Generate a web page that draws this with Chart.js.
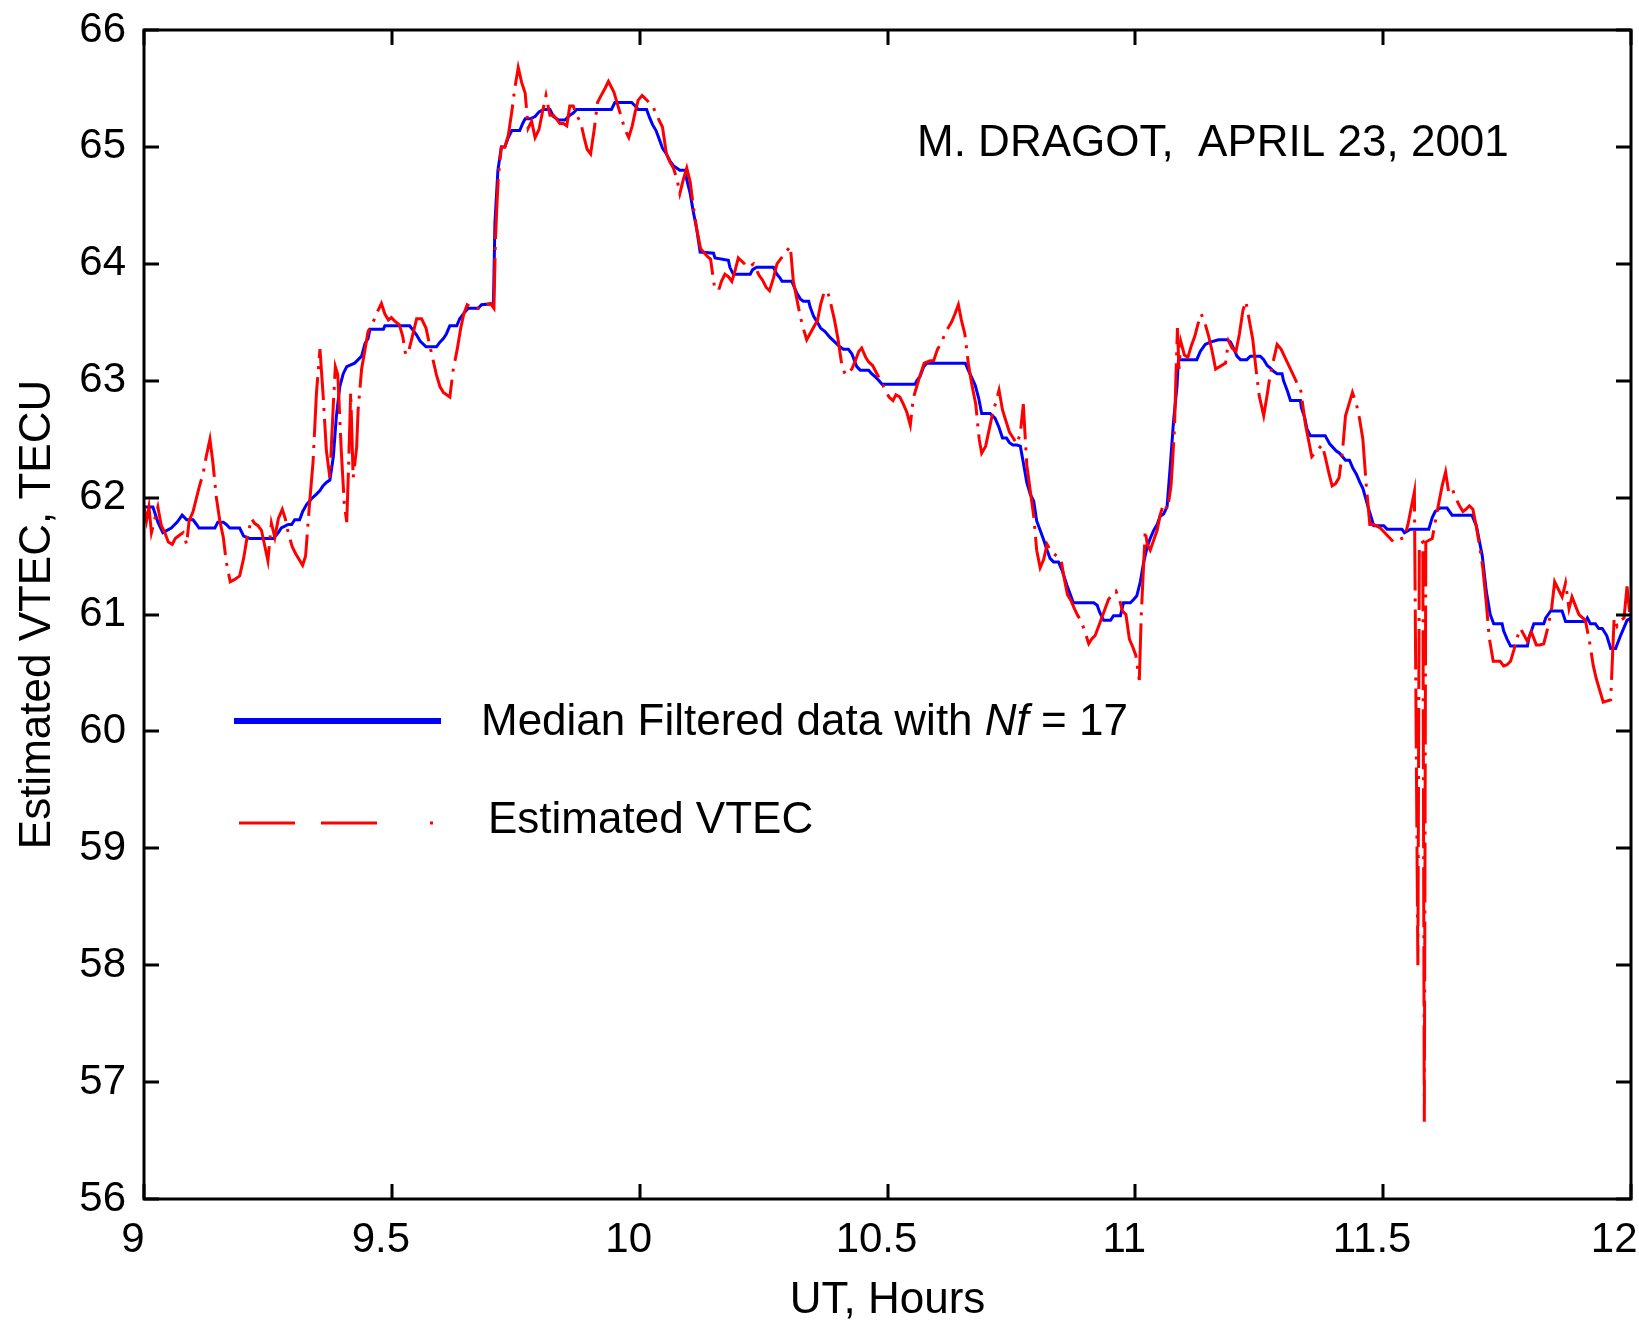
<!DOCTYPE html>
<html>
<head>
<meta charset="utf-8">
<title>Estimated VTEC, M. DRAGOT, April 23, 2001</title>
<script src="https://cdn.jsdelivr.net/npm/chart.js@4.4.1/dist/chart.umd.min.js"></script>
<style>
  html, body { margin: 0; padding: 0; background: #ffffff; }
  #wrap { width: 1639px; height: 1321px; }
</style>
</head>
<body>
<div id="wrap"><canvas id="vtec" width="1639" height="1321"></canvas></div>
<script>
// Estimated VTEC samples (UT hours / TECU)
const vtecHours = [
  9.000, 9.005, 9.010, 9.015, 9.022, 9.028, 9.035, 9.042, 9.049, 9.057, 9.063, 9.072, 9.079, 9.086, 9.091, 9.099,
  9.106, 9.112, 9.119, 9.126, 9.133, 9.139, 9.146, 9.153, 9.160, 9.166, 9.174, 9.183, 9.193, 9.201, 9.208, 9.217,
  9.223, 9.230, 9.237, 9.244, 9.250, 9.257, 9.264, 9.271, 9.279, 9.285, 9.291, 9.299, 9.306, 9.313, 9.320, 9.326,
  9.334, 9.341, 9.348, 9.355, 9.361, 9.368, 9.375, 9.382, 9.386, 9.391, 9.398, 9.404, 9.409, 9.413, 9.417, 9.422,
  9.429, 9.432, 9.439, 9.446, 9.452, 9.462, 9.472, 9.479, 9.486, 9.493, 9.499, 9.506, 9.515, 9.522, 9.528, 9.535,
  9.542, 9.550, 9.560, 9.569, 9.575, 9.583, 9.590, 9.597, 9.604, 9.617, 9.624, 9.632, 9.639, 9.645, 9.652, 9.664,
  9.678, 9.691, 9.699, 9.706, 9.709, 9.712, 9.715, 9.721, 9.728, 9.735, 9.742, 9.748, 9.755, 9.762, 9.769, 9.775,
  9.782, 9.789, 9.797, 9.804, 9.811, 9.819, 9.826, 9.832, 9.839, 9.846, 9.853, 9.859, 9.866, 9.873, 9.881, 9.888,
  9.894, 9.901, 9.908, 9.915, 9.921, 9.930, 9.937, 9.948, 9.964, 9.970, 9.978, 9.985, 9.991, 9.997, 10.005, 10.026,
  10.039, 10.046, 10.054, 10.061, 10.068, 10.075, 10.081, 10.088, 10.095, 10.102, 10.108, 10.115, 10.123, 10.137, 10.143, 10.151,
  10.159, 10.165, 10.172, 10.179, 10.186, 10.193, 10.199, 10.219, 10.230, 10.241, 10.248, 10.255, 10.262, 10.270, 10.277, 10.304,
  10.310, 10.317, 10.324, 10.330, 10.337, 10.359, 10.365, 10.373, 10.380, 10.386, 10.393, 10.400, 10.408, 10.415, 10.421, 10.428,
  10.435, 10.442, 10.448, 10.456, 10.462, 10.470, 10.503, 10.511, 10.517, 10.525, 10.532, 10.539, 10.546, 10.552, 10.559, 10.566,
  10.574, 10.586, 10.593, 10.601, 10.608, 10.614, 10.622, 10.629, 10.636, 10.643, 10.649, 10.656, 10.663, 10.670, 10.678, 10.685,
  10.690, 10.698, 10.712, 10.719, 10.725, 10.732, 10.746, 10.752, 10.761, 10.768, 10.774, 10.781, 10.795, 10.801, 10.808, 10.815,
  10.822, 10.830, 10.850, 10.857, 10.863, 10.870, 10.877, 10.884, 10.890, 10.897, 10.906, 10.912, 10.919, 10.926, 10.933, 10.939,
  10.946, 10.954, 10.961, 10.968, 10.974, 10.981, 10.988, 10.995, 11.001, 11.008, 11.012, 11.017, 11.020, 11.024, 11.030, 11.044,
  11.050, 11.057, 11.065, 11.072, 11.075, 11.079, 11.082, 11.085, 11.088, 11.092, 11.099, 11.106, 11.113, 11.120, 11.126, 11.133,
  11.140, 11.148, 11.155, 11.162, 11.182, 11.188, 11.195, 11.203, 11.210, 11.217, 11.223, 11.237, 11.244, 11.250, 11.259, 11.266,
  11.272, 11.279, 11.286, 11.294, 11.314, 11.334, 11.343, 11.350, 11.356, 11.370, 11.377, 11.383, 11.391, 11.397, 11.404, 11.411,
  11.418, 11.424, 11.431, 11.438, 11.446, 11.453, 11.459, 11.466, 11.473, 11.481, 11.494, 11.521, 11.543, 11.550, 11.556, 11.563,
  11.570, 11.573, 11.580, 11.583, 11.586, 11.599, 11.612, 11.619, 11.626, 11.632, 11.639, 11.646, 11.654, 11.661, 11.667, 11.674,
  11.681, 11.688, 11.694, 11.701, 11.708, 11.714, 11.722, 11.736, 11.743, 11.750, 11.757, 11.764, 11.770, 11.777, 11.791, 11.799,
  11.809, 11.816, 11.824, 11.833, 11.840, 11.846, 11.861, 11.868, 11.875, 11.881, 11.895, 11.908, 11.917, 11.924, 11.930, 11.937,
  11.944, 11.959, 11.966, 11.972, 11.979, 11.986, 11.992, 12.000
];
const vtecValues = [
  61.92, 61.80, 61.92, 61.70, 61.82, 61.92, 61.76, 61.70, 61.62, 61.60, 61.65, 61.68, 61.70, 61.60, 61.80, 61.88,
  62.00, 62.10, 62.20, 62.36, 62.50, 62.30, 62.00, 61.80, 61.66, 61.45, 61.28, 61.30, 61.33, 61.48, 61.66, 61.82,
  61.78, 61.76, 61.72, 61.58, 61.46, 61.78, 61.66, 61.82, 61.90, 61.82, 61.70, 61.58, 61.52, 61.47, 61.42, 61.50,
  61.95, 62.30, 62.90, 63.27, 62.90, 62.40, 62.17, 62.80, 63.12, 63.05, 62.40, 61.95, 61.79, 62.30, 62.90, 62.17,
  62.43, 62.75, 63.10, 63.27, 63.42, 63.50, 63.60, 63.66, 63.57, 63.52, 63.54, 63.51, 63.48, 63.38, 63.22, 63.27,
  63.39, 63.53, 63.53, 63.45, 63.33, 63.18, 63.05, 62.95, 62.90, 62.86, 63.10, 63.27, 63.45, 63.57, 63.65, 63.62,
  63.62, 63.65, 63.66, 63.62, 64.20, 64.50, 64.75, 65.00, 65.00, 65.10, 65.30, 65.50, 65.68, 65.55, 65.46, 65.16,
  65.22, 65.08, 65.15, 65.30, 65.44, 65.27, 65.27, 65.24, 65.20, 65.20, 65.18, 65.35, 65.35, 65.27, 65.21, 65.08,
  64.98, 64.94, 65.14, 65.38, 65.43, 65.50, 65.56, 65.47, 65.24, 65.15, 65.08, 65.18, 65.30, 65.40, 65.44, 65.35,
  65.23, 65.17, 64.94, 64.87, 64.82, 64.73, 64.60, 64.72, 64.82, 64.70, 64.50, 64.30, 64.13, 64.06, 64.04, 63.80,
  63.77, 63.85, 63.91, 63.89, 63.85, 63.95, 64.05, 63.97, 64.00, 63.90, 63.86, 63.80, 63.77, 63.88, 64.00, 64.15,
  63.85, 63.70, 63.55, 63.45, 63.35, 63.52, 63.65, 63.77, 63.75, 63.65, 63.52, 63.36, 63.13, 63.05, 63.07, 63.10,
  63.17, 63.25, 63.28, 63.20, 63.16, 63.13, 62.86, 62.83, 62.88, 62.86, 62.80, 62.73, 62.62, 62.85, 62.95, 63.05,
  63.15, 63.17, 63.17, 63.27, 63.32, 63.38, 63.45, 63.50, 63.57, 63.65, 63.52, 63.40, 63.15, 62.97, 62.80, 62.50,
  62.38, 62.44, 62.72, 62.82, 62.92, 62.75, 62.56, 62.52, 62.46, 62.55, 62.80, 62.28, 61.84, 61.55, 61.40, 61.47,
  61.60, 61.54, 61.47, 61.30, 61.17, 61.12, 61.05, 60.99, 60.95, 60.87, 60.75, 60.79, 60.82, 60.90, 60.98, 61.05,
  61.13, 61.17, 61.20, 61.13, 61.03, 61.00, 60.79, 60.72, 60.65, 60.44, 61.00, 61.45, 61.72, 61.60, 61.55, 61.72,
  61.85, 61.95, 61.90, 62.10, 62.30, 62.60, 63.05, 63.45, 63.10, 63.33, 63.22, 63.20, 63.30, 63.38, 63.48, 63.57,
  63.50, 63.38, 63.25, 63.10, 63.15, 63.34, 63.28, 63.25, 63.40, 63.60, 63.68, 63.35, 63.08, 62.87, 62.70, 62.88,
  63.05, 63.18, 63.31, 63.27, 63.09, 62.91, 62.63, 62.48, 62.35, 62.42, 62.45, 62.35, 62.20, 62.10, 62.12, 62.17,
  62.40, 62.70, 62.80, 62.90, 62.80, 62.66, 62.50, 62.10, 61.77, 61.77, 61.74, 61.62, 61.66, 61.77, 61.90, 62.05,
  58.00, 61.60, 61.62, 56.66, 61.62, 61.65, 61.95, 62.10, 62.22, 62.05, 62.08, 62.00, 61.93, 61.88, 61.90, 61.93,
  61.90, 61.75, 61.60, 61.40, 61.10, 60.80, 60.60, 60.60, 60.56, 60.57, 60.60, 60.70, 60.80, 60.88, 60.77, 60.85,
  60.74, 60.74, 60.75, 60.90, 61.06, 61.28, 61.15, 61.27, 61.05, 61.15, 61.00, 60.95, 60.75, 60.56, 60.45, 60.35,
  60.25, 60.27, 60.97, 60.90, 60.95, 60.97, 61.24, 60.90
];

// Median filtered VTEC (Nf = 17)
const medianHours = [
  9.000, 9.018, 9.028, 9.038, 9.055, 9.067, 9.077, 9.086, 9.099, 9.106, 9.111, 9.143, 9.149, 9.160, 9.166, 9.173,
  9.193, 9.201, 9.213, 9.261, 9.271, 9.277, 9.291, 9.298, 9.304, 9.314, 9.320, 9.328, 9.338, 9.348, 9.355, 9.361,
  9.368, 9.375, 9.382, 9.388, 9.395, 9.402, 9.409, 9.425, 9.432, 9.439, 9.446, 9.452, 9.456, 9.483, 9.486, 9.536,
  9.543, 9.550, 9.557, 9.569, 9.590, 9.597, 9.604, 9.610, 9.617, 9.631, 9.637, 9.644, 9.654, 9.674, 9.681, 9.705,
  9.708, 9.714, 9.721, 9.728, 9.735, 9.742, 9.758, 9.764, 9.769, 9.779, 9.789, 9.797, 9.806, 9.819, 9.826, 9.836,
  9.849, 9.859, 9.866, 9.873, 9.943, 9.950, 9.984, 9.991, 9.997, 10.014, 10.020, 10.026, 10.033, 10.040, 10.046, 10.054,
  10.061, 10.068, 10.081, 10.092, 10.095, 10.102, 10.108, 10.115, 10.122, 10.149, 10.152, 10.179, 10.182, 10.189, 10.223, 10.228,
  10.236, 10.270, 10.277, 10.283, 10.287, 10.307, 10.317, 10.324, 10.330, 10.341, 10.344, 10.351, 10.357, 10.365, 10.374, 10.384,
  10.394, 10.404, 10.411, 10.421, 10.428, 10.438, 10.445, 10.462, 10.468, 10.476, 10.483, 10.489, 10.556, 10.559, 10.566, 10.573,
  10.579, 10.657, 10.663, 10.677, 10.684, 10.690, 10.707, 10.717, 10.725, 10.732, 10.740, 10.746, 10.753, 10.761, 10.768, 10.774,
  10.781, 10.788, 10.795, 10.801, 10.808, 10.815, 10.822, 10.828, 10.835, 10.845, 10.852, 10.862, 10.875, 10.916, 10.923, 10.928,
  10.936, 10.950, 10.956, 10.970, 10.976, 10.990, 10.997, 11.003, 11.010, 11.017, 11.024, 11.030, 11.037, 11.044, 11.050, 11.057,
  11.064, 11.071, 11.077, 11.084, 11.087, 11.124, 11.131, 11.141, 11.151, 11.168, 11.185, 11.192, 11.199, 11.205, 11.212, 11.225,
  11.232, 11.252, 11.259, 11.266, 11.272, 11.279, 11.286, 11.296, 11.299, 11.307, 11.313, 11.333, 11.335, 11.342, 11.346, 11.353,
  11.383, 11.392, 11.405, 11.412, 11.424, 11.432, 11.439, 11.446, 11.453, 11.459, 11.473, 11.481, 11.501, 11.508, 11.538, 11.543,
  11.555, 11.592, 11.599, 11.605, 11.615, 11.629, 11.639, 11.679, 11.688, 11.700, 11.708, 11.716, 11.723, 11.740, 11.743, 11.750,
  11.757, 11.791, 11.794, 11.804, 11.824, 11.828, 11.838, 11.861, 11.868, 11.908, 11.912, 11.918, 11.928, 11.935, 11.942, 11.951,
  11.959, 11.969, 11.979, 11.986, 11.992, 12.000
];
const medianValues = [
  61.92, 61.92, 61.79, 61.70, 61.74, 61.79, 61.85, 61.81, 61.81, 61.77, 61.74, 61.74, 61.79, 61.79, 61.77, 61.74,
  61.74, 61.67, 61.65, 61.65, 61.70, 61.74, 61.77, 61.77, 61.81, 61.81, 61.88, 61.94, 61.99, 62.03, 62.06, 62.10,
  62.13, 62.15, 62.35, 62.69, 62.95, 63.06, 63.12, 63.15, 63.18, 63.21, 63.32, 63.36, 63.44, 63.44, 63.47, 63.47,
  63.43, 63.39, 63.34, 63.29, 63.29, 63.33, 63.36, 63.40, 63.47, 63.47, 63.53, 63.57, 63.62, 63.62, 63.65, 63.66,
  64.35, 64.80, 65.00, 65.00, 65.08, 65.14, 65.14, 65.20, 65.24, 65.24, 65.26, 65.30, 65.32, 65.32, 65.26, 65.23,
  65.23, 65.27, 65.29, 65.32, 65.32, 65.38, 65.38, 65.35, 65.32, 65.32, 65.25, 65.19, 65.14, 65.06, 64.99, 64.94,
  64.88, 64.84, 64.80, 64.80, 64.72, 64.60, 64.45, 64.30, 64.10, 64.09, 64.05, 64.03, 63.97, 63.91, 63.91, 63.95,
  63.97, 63.97, 63.91, 63.88, 63.85, 63.85, 63.75, 63.70, 63.68, 63.68, 63.63, 63.55, 63.51, 63.45, 63.42, 63.37,
  63.33, 63.29, 63.27, 63.27, 63.23, 63.12, 63.09, 63.09, 63.06, 63.03, 63.00, 62.97, 62.97, 63.00, 63.04, 63.12,
  63.15, 63.15, 63.09, 62.96, 62.85, 62.72, 62.72, 62.68, 62.60, 62.51, 62.51, 62.47, 62.45, 62.45, 62.44, 62.30,
  62.13, 62.03, 61.97, 61.80, 61.72, 61.64, 61.55, 61.48, 61.45, 61.45, 61.38, 61.25, 61.10, 61.10, 61.08, 61.02,
  60.95, 60.95, 60.99, 60.99, 61.10, 61.10, 61.13, 61.16, 61.28, 61.45, 61.58, 61.65, 61.72, 61.77, 61.84, 61.86,
  61.92, 62.30, 62.65, 62.95, 63.18, 63.18, 63.25, 63.31, 63.33, 63.35, 63.35, 63.33, 63.27, 63.21, 63.18, 63.18,
  63.21, 63.21, 63.18, 63.13, 63.11, 63.08, 63.06, 63.06, 63.00, 62.91, 62.83, 62.83, 62.77, 62.68, 62.59, 62.53,
  62.53, 62.46, 62.40, 62.38, 62.32, 62.32, 62.25, 62.20, 62.13, 62.08, 61.87, 61.76, 61.76, 61.73, 61.73, 61.70,
  61.73, 61.73, 61.83, 61.88, 61.91, 61.91, 61.85, 61.85, 61.76, 61.50, 61.20, 61.00, 60.92, 60.92, 60.86, 60.79,
  60.73, 60.73, 60.80, 60.92, 60.92, 60.97, 61.03, 61.03, 60.94, 60.94, 60.97, 60.92, 60.92, 60.88, 60.88, 60.82,
  60.71, 60.71, 60.82, 60.89, 60.95, 60.97
];

// Axis ticks
const hourTicks = [9, 9.5, 10, 10.5, 11, 11.5, 12];
const tecuTicks = [56, 57, 58, 59, 60, 61, 62, 63, 64, 65, 66];

// Text
const plotNote = 'M. DRAGOT,  APRIL 23, 2001';
const medianLabelParts = ['Median Filtered data with ', 'Nf', ' = 17'];
const vtecLabel = 'Estimated VTEC';
const xTitle = 'UT, Hours';
const yTitle = 'Estimated VTEC, TECU';

const FONT = '"Liberation Sans", Arial, Helvetica, sans-serif';
const BLUE = '#0000ff';
const RED = '#ff0000';
// dash-dot pattern of the VTEC trace, and the longer sample used in the key
const VTEC_DASH = [60, 8, 3, 8];
const VTEC_KEY_DASH = [56, 26, 56, 53, 3, 60];

const toPoints = (xs, ys) => xs.map((x, i) => ({ x, y: ys[i] }));

// Boxed frame with inward ticks, in-plot note and legend
const framePlugin = {
  id: 'frameAndLegend',
  afterDatasetsDraw(chart) {
    const { ctx, chartArea: a, scales } = chart;
    const xs = scales.x, ys = scales.y;
    const tick = 15;
    ctx.save();
    ctx.strokeStyle = '#000';
    ctx.lineWidth = 3;
    ctx.lineCap = 'butt';
    ctx.beginPath();
    xs.ticks.forEach(t => {
      const px = Math.round(xs.getPixelForValue(t.value));
      ctx.moveTo(px, a.bottom); ctx.lineTo(px, a.bottom - tick);
      ctx.moveTo(px, a.top); ctx.lineTo(px, a.top + tick);
    });
    ys.ticks.forEach(t => {
      const py = Math.round(ys.getPixelForValue(t.value));
      ctx.moveTo(a.left, py); ctx.lineTo(a.left + tick, py);
      ctx.moveTo(a.right, py); ctx.lineTo(a.right - tick, py);
    });
    ctx.stroke();
    ctx.strokeRect(a.left, a.top, a.right - a.left, a.bottom - a.top);

    // note in the upper right of the plot
    ctx.fillStyle = '#000';
    ctx.textBaseline = 'alphabetic';
    ctx.textAlign = 'left';
    ctx.font = '44px ' + FONT;
    ctx.fillText(plotNote, 917, 156);

    // legend
    const est = chart.data.datasets[0];
    const med = chart.data.datasets[1];
    ctx.strokeStyle = med.borderColor;
    ctx.lineWidth = 6;
    ctx.beginPath(); ctx.moveTo(234, 721); ctx.lineTo(441, 721); ctx.stroke();
    let tx = 481;
    ctx.font = '44px ' + FONT;
    ctx.fillText(medianLabelParts[0], tx, 735);
    tx += ctx.measureText(medianLabelParts[0]).width;
    ctx.font = 'italic 44px ' + FONT;
    ctx.fillText(medianLabelParts[1], tx, 735);
    tx += ctx.measureText(medianLabelParts[1]).width;
    ctx.font = '44px ' + FONT;
    ctx.fillText(medianLabelParts[2], tx, 735);

    ctx.strokeStyle = est.borderColor;
    ctx.lineWidth = 3;
    ctx.setLineDash(VTEC_KEY_DASH);
    ctx.beginPath(); ctx.moveTo(239, 823); ctx.lineTo(434, 823); ctx.stroke();
    ctx.setLineDash([]);
    ctx.fillText(est.label, 488, 833);
    ctx.restore();
  }
};

new Chart(document.getElementById('vtec'), {
  type: 'line',
  data: {
    datasets: [
      {
        label: vtecLabel,
        data: toPoints(vtecHours, vtecValues),
        borderColor: RED,
        borderWidth: 3,
        borderDash: VTEC_DASH,
        pointRadius: 0,
        tension: 0,
        fill: false,
        order: 1
      },
      {
        label: medianLabelParts.join(''),
        data: toPoints(medianHours, medianValues),
        borderColor: BLUE,
        borderWidth: 3,
        pointRadius: 0,
        tension: 0,
        fill: false,
        order: 2
      }
    ]
  },
  options: {
    responsive: false,
    animation: false,
    devicePixelRatio: 1,
    layout: { padding: { top: 30, right: 8, left: 0, bottom: 0 } },
    plugins: { legend: { display: false }, tooltip: { enabled: false } },
    scales: {
      x: {
        type: 'linear',
        min: 9, max: 12,
        grid: { display: false, drawTicks: false },
        border: { display: false },
        afterBuildTicks: s => { s.ticks = hourTicks.map(v => ({ value: v })); },
        ticks: {
          color: '#000',
          font: { family: FONT, size: 42 },
          padding: 16,
          labelOffset: -11,
          maxRotation: 0,
          autoSkip: false,
          callback: v => (v === 12 ? '12 ' : String(v))
        },
        title: {
          display: true, text: xTitle, color: '#000',
          font: { family: FONT, size: 44, lineHeight: 0.9 },
          padding: { top: 0, bottom: 0 }
        },
        afterFit: s => { s.height = 122; s.paddingLeft = 0; s.paddingRight = 0; }
      },
      y: {
        min: 56, max: 66,
        grid: { display: false, drawTicks: false },
        border: { display: false },
        afterBuildTicks: s => { s.ticks = tecuTicks.map(v => ({ value: v })); },
        ticks: {
          color: '#000',
          font: { family: FONT, size: 42 },
          padding: 18,
          autoSkip: false,
          callback: v => String(v)
        },
        title: {
          display: true, text: yTitle, color: '#000',
          font: { family: FONT, size: 44 },
          padding: { top: 11, bottom: 0 }
        },
        afterFit: s => { s.width = 144; s.paddingTop = 0; s.paddingBottom = 0; }
      }
    }
  },
  plugins: [framePlugin]
});
</script>
</body>
</html>
